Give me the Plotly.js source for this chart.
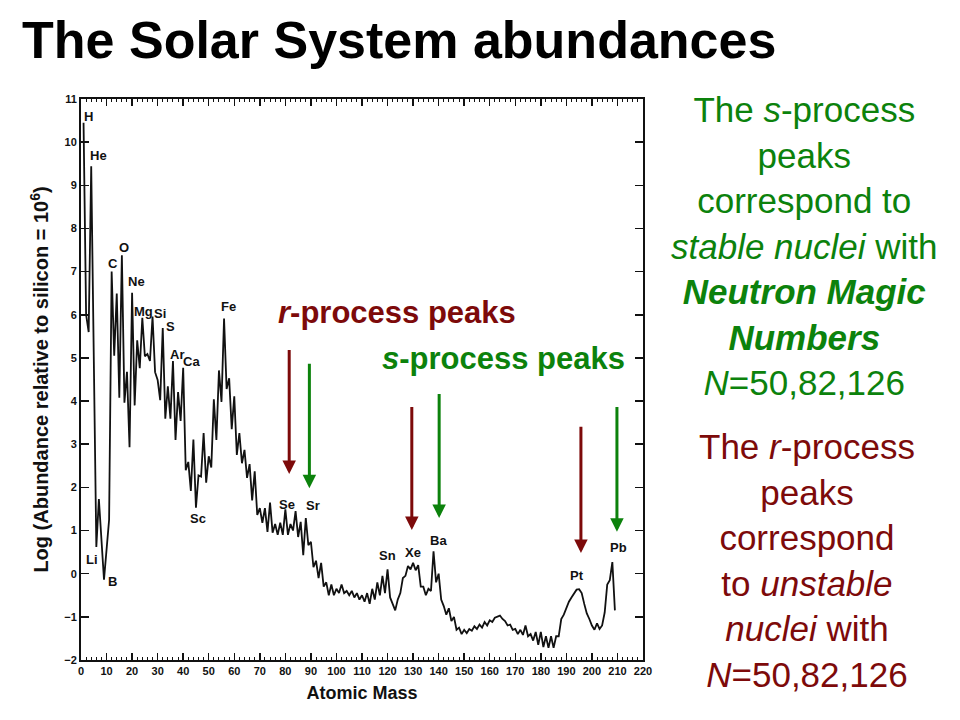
<!DOCTYPE html>
<html>
<head>
<meta charset="utf-8">
<script src="https://cdn.plot.ly/plotly-3.0.1.min.js"></script>
<style>
  body { margin: 0; background: #fff; }
  #chart { width: 960px; height: 720px; }
</style>
</head>
<body>
<div id="chart"></div>
<script>
// mass numbers (nothing stable at A = 5 and 8)
const mass = [
  1, 2, 3, 4, 6, 7, 9,
  10, 11, 12, 13, 14, 15, 16, 17, 18, 19,
  20, 21, 22, 23, 24, 25, 26, 27, 28, 29,
  30, 31, 32, 33, 34, 35, 36, 37, 38, 39,
  40, 41, 42, 43, 44, 45, 46, 47, 48, 49,
  50, 51, 52, 53, 54, 55, 56, 57, 58, 59,
  60, 61, 62, 63, 64, 65, 66, 67, 68, 69,
  70, 71, 72, 73, 74, 75, 76, 77, 78, 79,
  80, 81, 82, 83, 84, 85, 86, 87, 88, 89,
  90, 91, 92, 93, 94, 95, 96, 97, 98, 99,
  100, 101, 102, 103, 104, 105, 106, 107, 108, 109,
  110, 111, 112, 113, 114, 115, 116, 117, 118, 119,
  120, 121, 122, 123, 124, 125, 126, 127, 128, 129,
  130, 131, 132, 133, 134, 135, 136, 137, 138, 139,
  140, 141, 142, 143, 144, 145, 146, 147, 148, 149,
  150, 151, 152, 153, 154, 155, 156, 157, 158, 159,
  160, 161, 162, 163, 164, 165, 166, 167, 168, 169,
  170, 171, 172, 173, 174, 175, 176, 177, 178, 179,
  180, 181, 182, 183, 184, 185, 186, 187, 188, 189,
  190, 191, 192, 193, 194, 195, 196, 197, 198, 199,
  200, 201, 202, 203, 204, 205, 206, 207, 208, 209
];

// log abundance, Si = 10^6
const logAbundance = [
  10.45, 6.0, 5.6, 9.44, 0.62, 1.73, -0.14,
  0.6, 1.25, 7.0, 5.05, 6.49, 4.08, 7.38, 3.96, 4.68, 2.93,
  6.51, 3.9, 5.41, 4.76, 5.93, 5.04, 5.09, 4.93, 5.96, 4.67,
  4.49, 4.02, 5.69, 3.59, 4.34, 3.59, 4.93, 3.1, 4.21, 3.54,
  4.77, 2.4, 2.59, 1.92, 3.11, 1.53, 2.28, 2.25, 3.26, 2.11,
  2.72, 2.46, 4.04, 3.1, 4.71, 3.98, 5.91, 4.28, 4.53, 3.35,
  4.11, 2.75, 3.26, 2.56, 2.87, 2.22, 2.54, 1.7, 2.37, 1.36,
  1.52, 1.18, 1.52, 0.97, 1.65, 0.95, 1.15, 0.9, 1.18, 0.9,
  1.49, 0.9, 1.15, 1.0, 1.45, 0.85, 1.2, 0.43, 1.29, 0.66,
  0.74, 0.15, 0.3, -0.1, 0.25, -0.3, -0.2, -0.5, -0.25, -0.5,
  -0.35, -0.45, -0.25, -0.45, -0.4, -0.5, -0.4, -0.55, -0.45, -0.6,
  -0.5, -0.65, -0.45, -0.7, -0.35, -0.6, -0.2, -0.5, -0.05, -0.45,
  0.1, -0.55, -0.7, -0.85, -0.6, -0.45, -0.1, -0.05, 0.18, 0.1,
  0.25, 0.08, 0.2, -0.3, -0.3, -0.5, -0.35, -0.4, 0.52, -0.2,
  0.0, -0.6, -0.75, -0.95, -0.8, -1.1, -1.0, -1.3, -1.25, -1.4,
  -1.3, -1.38, -1.28, -1.32, -1.22, -1.28, -1.18, -1.25, -1.12, -1.2,
  -1.08, -1.12, -1.02, -1.0, -0.97, -1.05, -1.1, -1.2, -1.18, -1.3,
  -1.28, -1.4, -1.3, -1.42, -1.2, -1.45, -1.4, -1.55, -1.35, -1.65,
  -1.35, -1.7, -1.45, -1.72, -1.45, -1.72, -1.45, -1.45, -1.05, -0.95,
  -0.78, -0.65, -0.55, -0.45, -0.37, -0.36, -0.45, -0.7, -0.92, -1.05,
  -1.2, -1.3, -1.15, -1.28, -1.2, -0.9, -0.25, -0.15, 0.27, -0.85
];

// element labels and where they sit
const elementNames = ['H', 'He', 'Li', 'B', 'C', 'O', 'Ne', 'Mg', 'Si', 'S', 'Ar', 'Ca', 'Sc', 'Fe',
  'Se', 'Sr', 'Sn', 'Xe', 'Ba', 'Pt', 'Pb'];
const elementX = [2.8, 6.7, 4.3, 12.2, 12.6, 16.9, 21.7, 24.4, 31.1, 35, 37.4, 43.3, 45.7, 57.9,
  80.7, 91, 120, 130, 140, 194, 210.6];
const elementY = [10.6, 9.69, 0.32, -0.19, 7.19, 7.56, 6.77, 6.08, 6.03, 5.73, 5.08, 4.92, 1.27, 6.2,
  1.61, 1.57, 0.43, 0.5, 0.78, -0.05, 0.6];

// process peak arrows: mass, tail height, head height
const rPeakMass = [81.5, 129.5, 195.7];
const rPeakFrom = [5.22, 3.9, 3.44];
const rPeakTo = [2.31, 1.01, 0.48];
const sPeakMass = [89.4, 140.2, 209.8];
const sPeakFrom = [4.9, 4.2, 3.9];
const sPeakTo = [1.98, 1.29, 0.97];

const RED = '#7d0a0a';
const GREEN = '#0c820c';
const FONT = 'Liberation Sans, Arial, sans-serif';

const annotations = [];

elementNames.forEach((name, i) => {
  annotations.push({
    x: elementX[i], y: elementY[i], xref: 'x', yref: 'y',
    text: '<b>' + name + '</b>', showarrow: false,
    font: { family: FONT, size: 13, color: '#111' }
  });
});

function addArrows(xs, from, to, color) {
  xs.forEach((m, i) => {
    annotations.push({
      x: m, y: to[i], ax: m, ay: from[i],
      xref: 'x', yref: 'y', axref: 'x', ayref: 'y',
      text: '', showarrow: true, arrowhead: 2, arrowsize: 0.9,
      arrowwidth: 3, arrowcolor: color, standoff: 0
    });
  });
}
addArrows(rPeakMass, rPeakFrom, rPeakTo, RED);
addArrows(sPeakMass, sPeakFrom, sPeakTo, GREEN);

annotations.push({
  x: 123.6, y: 6.06, xref: 'x', yref: 'y', showarrow: false,
  text: '<b><i>r</i>-process peaks</b>',
  font: { family: FONT, size: 31, color: RED }
});
annotations.push({
  x: 165.5, y: 4.99, xref: 'x', yref: 'y', showarrow: false,
  text: '<b><i>s</i>-process peaks</b>',
  font: { family: FONT, size: 31, color: GREEN }
});

// side notes
annotations.push({
  x: 1.288, y: 0.738, xref: 'paper', yref: 'paper', xanchor: 'center', yanchor: 'middle',
  showarrow: false, align: 'center',
  text: 'The <i>s</i>-process<br>peaks<br>correspond to<br><i>stable nuclei</i> with<br>' +
        '<b><i>Neutron Magic</i></b><br><b><i>Numbers</i></b><br><i>N</i>=50,82,126',
  font: { family: FONT, size: 35, color: GREEN }
});
annotations.push({
  x: 1.292, y: 0.1765, xref: 'paper', yref: 'paper', xanchor: 'center', yanchor: 'middle',
  showarrow: false, align: 'center',
  text: 'The <i>r</i>-process<br>peaks<br>correspond<br>to <i>unstable</i><br>' +
        '<i>nuclei</i> with<br><i>N</i>=50,82,126',
  font: { family: FONT, size: 35, color: RED }
});

const axisFont = { family: FONT, size: 11, color: '#111', weight: 'bold' };

Plotly.newPlot('chart', [{
  x: mass,
  y: logAbundance,
  type: 'scatter',
  mode: 'lines',
  line: { color: '#111', width: 1.8 },
  hoverinfo: 'x+y'
}], {
  width: 960,
  height: 720,
  paper_bgcolor: '#fff',
  plot_bgcolor: '#fff',
  showlegend: false,
  margin: { l: 81, r: 317, t: 99, b: 60 },
  title: {
    text: '<b>The Solar System abundances</b>',
    xref: 'container', yref: 'container',
    x: 0.023, xanchor: 'left', y: 0.945, yanchor: 'middle',
    font: { family: FONT, size: 52, color: '#000' }
  },
  xaxis: {
    range: [0, 220],
    dtick: 10,
    tick0: 0,
    ticks: 'inside',
    ticklen: 7,
    tickwidth: 1.5,
    tickcolor: '#111',
    minor: { dtick: 2, ticks: 'inside', ticklen: 3, tickcolor: '#111', tickwidth: 1 },
    showline: true,
    linecolor: '#111',
    linewidth: 2,
    mirror: 'ticks',
    showgrid: false,
    zeroline: false,
    tickfont: axisFont,
    title: {
      text: '<b>Atomic Mass</b>',
      font: { family: FONT, size: 18, color: '#111' },
      standoff: 10
    }
  },
  yaxis: {
    range: [-2, 11],
    dtick: 1,
    ticks: 'inside',
    ticklen: 8,
    tickwidth: 1.5,
    tickcolor: '#111',
    showline: true,
    linecolor: '#111',
    linewidth: 2,
    mirror: 'ticks',
    showgrid: false,
    zeroline: false,
    tickfont: axisFont,
    title: {
      text: '<b>Log (Abundance relative to silicon = 10<sup>6</sup>)</b>',
      font: { family: FONT, size: 20, color: '#111' },
      standoff: 10
    }
  },
  annotations: annotations
}, { displayModeBar: false, staticPlot: true });
</script>
</body>
</html>
